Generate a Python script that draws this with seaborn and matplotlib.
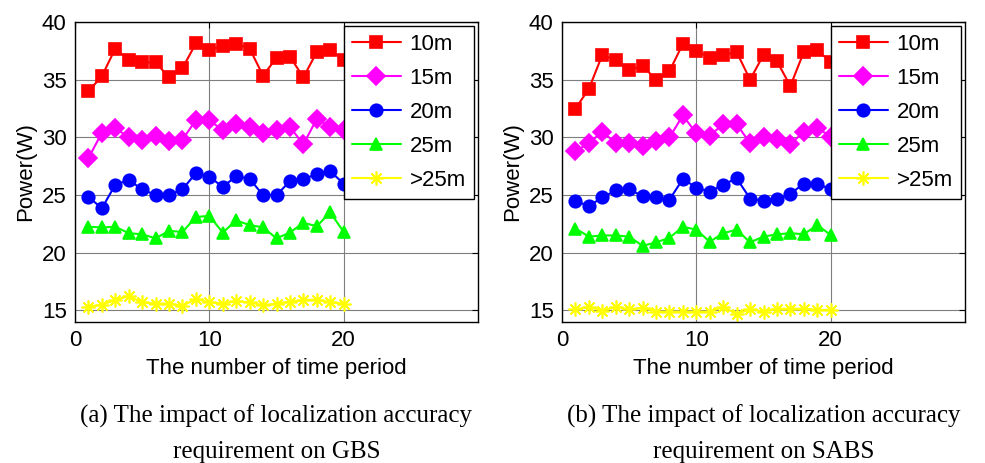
import numpy as np
import pandas as pd
import matplotlib
matplotlib.use("Agg")
from matplotlib import pyplot as plt
import seaborn as sns

# time periods 1..20
periods = list(range(1, 21))
labels = ['10m', '15m', '20m', '25m', '>25m']
colors = ['#ff0000', '#ff00ff', '#0000ff', '#00ff00', '#ffff00']
markers = ['s', 'D', 'o', '^', (8, 2, 0)]

# (a) GBS
gbs_10 = [34.0, 35.3, 37.7, 36.7, 36.5, 36.5, 35.2, 36.0, 38.15, 37.6,
          37.9, 38.1, 37.7, 35.35, 36.9, 37.0, 35.2, 37.4, 37.6, 36.7]
gbs_15 = [28.2, 30.4, 30.8, 30.0, 29.8, 30.1, 29.7, 29.8, 31.5, 31.5,
          30.6, 31.2, 30.9, 30.4, 30.6, 30.9, 29.4, 31.6, 30.9, 30.6]
gbs_20 = [24.85, 23.85, 25.9, 26.3, 25.5, 25.0, 25.0, 25.5, 26.9, 26.6,
          25.7, 26.65, 26.4, 25.0, 25.0, 26.2, 26.4, 26.8, 27.05, 26.0]
gbs_25 = [22.25, 22.2, 22.25, 21.7, 21.6, 21.25, 21.9, 21.8, 23.1, 23.2,
          21.75, 22.8, 22.4, 22.2, 21.25, 21.75, 22.6, 22.3, 23.5, 21.8]
gbs_gt = [15.33, 15.5, 15.9, 16.25, 15.7, 15.6, 15.6, 15.4, 16.0, 15.7,
          15.6, 15.8, 15.7, 15.45, 15.6, 15.75, 15.9, 15.95, 15.7, 15.6]

# (b) SABS
sabs_10 = [32.5, 34.2, 37.15, 36.7, 35.8, 36.2, 35.0, 35.75, 38.1, 37.5,
           36.9, 37.15, 37.4, 35.0, 37.15, 36.6, 34.45, 37.4, 37.6, 36.5]
sabs_15 = [28.8, 29.5, 30.5, 29.5, 29.5, 29.25, 29.7, 30.0, 31.9, 30.35,
           30.15, 31.15, 31.15, 29.5, 30.05, 29.9, 29.4, 30.5, 30.85, 30.05]
sabs_20 = [24.5, 24.05, 24.8, 25.4, 25.5, 24.9, 24.8, 24.6, 26.4, 25.65,
           25.3, 25.9, 26.45, 24.7, 24.5, 24.65, 25.1, 26.0, 26.0, 25.5]
sabs_25 = [22.1, 21.4, 21.5, 21.5, 21.4, 20.6, 20.9, 21.3, 22.25, 22.0,
           20.95, 21.7, 22.0, 20.9, 21.4, 21.6, 21.7, 21.6, 22.4, 21.55]
sabs_gt = [15.1, 15.3, 14.98, 15.3, 15.1, 15.25, 14.9, 14.9, 14.9, 14.9,
           14.9, 15.3, 14.7, 15.1, 14.9, 15.15, 15.15, 15.15, 15.05, 15.05]

captions = [('(a) The impact of localization accuracy', 'requirement on GBS'),
            ('(b) The impact of localization accuracy', 'requirement on SABS')]

sns.set_style("white")
plt.rcParams['font.family'] = ['Liberation Sans', 'DejaVu Sans']
plt.rcParams['text.color'] = 'black'
plt.rcParams['axes.labelcolor'] = 'black'

fig = plt.figure(figsize=(9.85, 4.63), dpi=100)
W, H = 985, 463
boxes = [(75, 478), (562, 965)]
top, bottom = 22, 322
panels = [[gbs_10, gbs_15, gbs_20, gbs_25, gbs_gt],
          [sabs_10, sabs_15, sabs_20, sabs_25, sabs_gt]]

for (left, right), series, cap in zip(boxes, panels, captions):
    ax = fig.add_axes([left / W, 1 - bottom / H, (right - left) / W, (bottom - top) / H])
    for lab, vals, c, m in zip(labels, series, colors, markers):
        df = pd.DataFrame({'period': periods, 'power': vals})
        ms = 9 if m != (8, 2, 0) else 10
        sns.lineplot(data=df, x='period', y='power', ax=ax, color=c, marker=m,
                     markersize=ms, markeredgecolor=c, markerfacecolor=c,
                     markeredgewidth=1.2, linewidth=1.5, label=lab)
    ax.set_xlim(0, 30)
    ax.set_ylim(14, 40)
    ax.set_xticks([0, 10, 20])
    ax.set_yticks([15, 20, 25, 30, 35, 40])
    ax.grid(True, color='#7f7f7f', linewidth=0.8)
    ax.tick_params(direction='in', top=True, right=True, labelsize=16,
                   length=4, colors='black', pad=6)
    for s in ax.spines.values():
        s.set_color('black')
        s.set_linewidth(1.0)
    ax.set_xlabel('The number of time period', fontsize=16, labelpad=5)
    ax.set_ylabel('Power(W)', fontsize=16, labelpad=4)
    leg = ax.legend(loc='upper right', fontsize=16, frameon=True, fancybox=False,
                    edgecolor='black', framealpha=1, handlelength=2.2,
                    borderpad=0.35, labelspacing=0.58, handletextpad=0.4,
                    borderaxespad=0.2)
    leg.get_frame().set_linewidth(1.0)
    cx = (left + right) / 2 / W
    for line, ypix in zip(cap, [423, 458]):
        fig.text(cx, 1 - ypix / H, line, ha='center', va='baseline', color='black',
                 fontsize=18, family=['Liberation Serif', 'DejaVu Serif'])

fig.savefig('out.png', dpi=100)
